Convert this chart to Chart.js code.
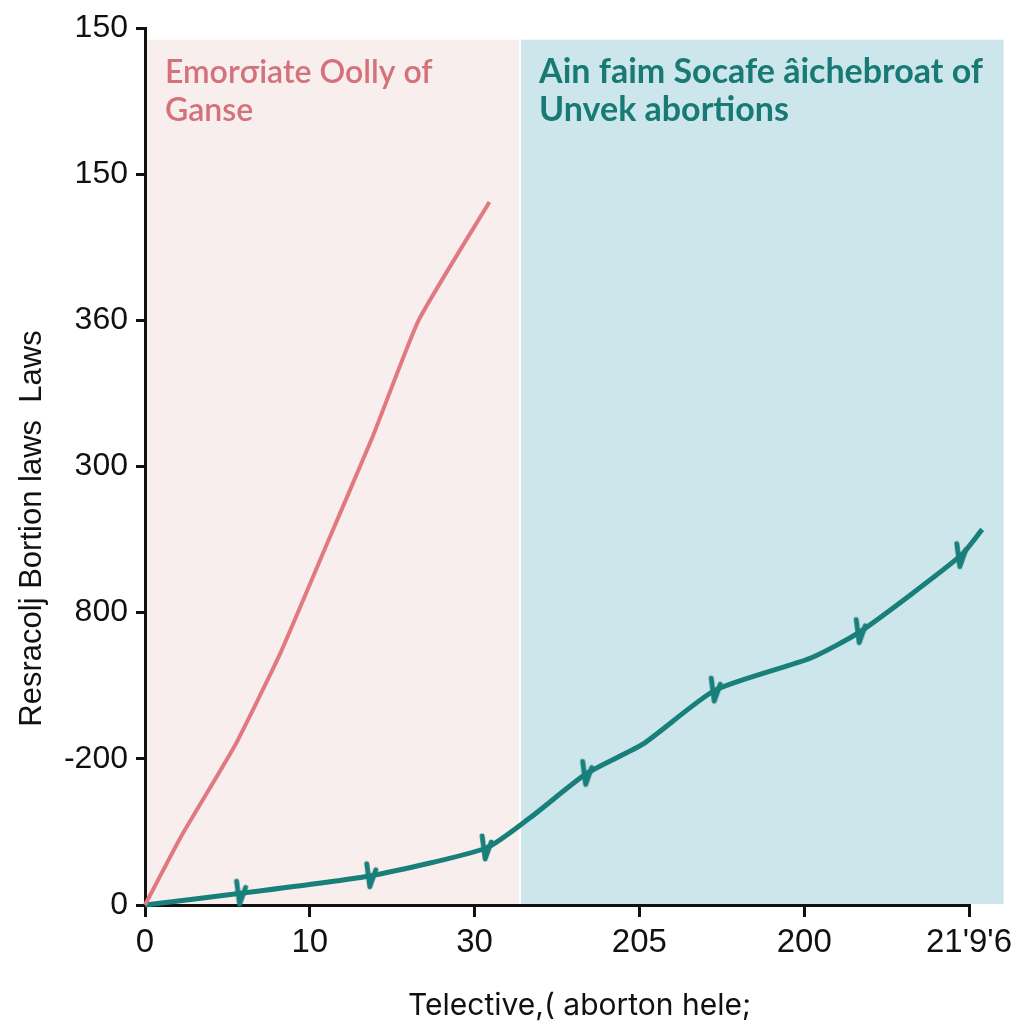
<!DOCTYPE html>
<html>
<head>
<meta charset="utf-8">
<script src="https://cdn.jsdelivr.net/npm/chart.js@4.4.1/dist/chart.umd.min.js"></script>
<style>
  html, body { margin: 0; padding: 0; background: #fff; }
  #wrap { width: 1024px; height: 1024px; }
</style>
</head>
<body>
<div id="wrap"><canvas id="chart"></canvas></div>
<script>
// tick labels as printed on the original
const yTickLabels = ['0', '-200', '800', '300', '360', '150', '150'];
const xTickLabels = ['0', '10', '30', '205', '200', "21'9'6"];

// red series (x, y in tick-step units)
const redX = [0, 0.22, 0.55, 0.82, 1.1, 1.38, 1.66, 2.09];
const redY = [0, 0.47, 1.1, 1.72, 2.46, 3.2, 4.0, 4.81];

// teal series
const tealX = [0, 0.58, 1.37, 2.07, 2.34, 2.68, 3.02, 3.46, 4.04, 4.34, 4.95, 5.08];
const tealY = [0, 0.08, 0.2, 0.39, 0.6, 0.9, 1.1, 1.47, 1.69, 1.87, 2.39, 2.57];
const tealMarked = [1, 2, 3, 5, 7, 9, 10];

// shaded bands [from, to] along x, and top in y units
const bands = [
  { from: 0, to: 2.27, top: 5.92, color: '#f9eeee',
    text: ['Emorσiate Oolly of', 'Ganse'], textColor: '#d4727b', font: '600 32px Lato, "Open Sans", sans-serif' },
  { from: 2.27, to: 5.21, top: 5.92, color: '#cde6eb',
    text: ['Ain faim Socafe âichebroat of', 'Unvek abortions'], textColor: '#177a74', font: '700 34px Lato, "Open Sans", sans-serif' }
];

const red = '#e07a80';
const teal = '#197f7b';

// little "v" tick used as the teal marker
function makeMark() {
  const c = document.createElement('canvas');
  c.width = 22; c.height = 32;
  const x = c.getContext('2d');
  x.strokeStyle = teal;
  x.lineWidth = 5;
  x.lineCap = 'round';
  x.lineJoin = 'round';
  x.beginPath();
  x.moveTo(7, 4);
  x.lineTo(10, 27);
  x.lineTo(16, 10);
  x.stroke();
  return c;
}
const mark = makeMark();

const bandPlugin = {
  id: 'bands',
  beforeDatasetsDraw(chart) {
    const { ctx, scales: { x, y } } = chart;
    ctx.save();
    bands.forEach(b => {
      const l = x.getPixelForValue(b.from), r = x.getPixelForValue(b.to);
      const t = y.getPixelForValue(b.top), bot = y.getPixelForValue(0);
      ctx.fillStyle = b.color;
      ctx.fillRect(l + 2, t, r - l - 2, bot - t - 1);
      ctx.fillStyle = b.textColor;
      ctx.font = b.font;
      ctx.textBaseline = 'alphabetic';
      b.text.forEach((s, i) => ctx.fillText(s, l + 20, t + 43 + i * 38));
    });
    ctx.restore();
  }
};

new Chart(document.getElementById('chart').getContext('2d'), {
  type: 'line',
  data: {
    datasets: [
      {
        data: redX.map((v, i) => ({ x: v, y: redY[i] })),
        borderColor: red,
        borderWidth: 4,
        pointRadius: 0,
        tension: 0.15,
        clip: false
      },
      {
        data: tealX.map((v, i) => ({ x: v, y: tealY[i] })),
        borderColor: teal,
        borderWidth: 5,
        tension: 0.2,
        pointStyle: c => tealMarked.includes(c.dataIndex) ? mark : false,
        pointRadius: 8,
        clip: false
      }
    ]
  },
  options: {
    responsive: true,
    maintainAspectRatio: false,
    animation: false,
    layout: { padding: { left: 0, right: 55, top: 28, bottom: 0 } },
    plugins: { legend: { display: false }, tooltip: { enabled: false } },
    scales: {
      x: {
        type: 'linear', min: 0, max: 5,
        afterFit: s => { s.height = 119; },
        afterBuildTicks: s => { s.ticks = xTickLabels.map((_, i) => ({ value: i })); },
        ticks: {
          color: '#111', padding: 6,
          font: { family: '"Liberation Sans", Arial, sans-serif', size: 33 },
          callback: (v, i) => xTickLabels[i]
        },
        grid: { drawOnChartArea: false, drawTicks: true, tickLength: 12, color: '#111', lineWidth: 3 },
        border: { color: '#111', width: 3 },
        title: {
          display: true, text: '\u2002\u2002\u2002Telective,( aborton hele;', color: '#111',
          font: { family: 'Inter, "Liberation Sans", sans-serif', size: 30 },
          padding: { top: 4, bottom: 0 }
        }
      },
      y: {
        type: 'linear', min: 0, max: 6,
        afterFit: s => { s.width = 145; },
        afterBuildTicks: s => { s.ticks = yTickLabels.map((_, i) => ({ value: i })); },
        ticks: {
          color: '#111', padding: 8,
          font: { family: '"Liberation Sans", Arial, sans-serif', size: 32 },
          callback: (v, i) => yTickLabels[i]
        },
        grid: { drawOnChartArea: false, drawTicks: true, tickLength: 9, color: '#111', lineWidth: 3 },
        border: { color: '#111', width: 3 },
        title: {
          display: true,
          text: 'Resracolj Bortion laws  Laws\u2003\u2003\u2003\u2003',
          color: '#111',
          font: { family: '"Liberation Sans", Arial, sans-serif', size: 31 },
          padding: { top: 14, bottom: 0 }
        }
      }
    }
  },
  plugins: [bandPlugin]
});
</script>
</body>
</html>
